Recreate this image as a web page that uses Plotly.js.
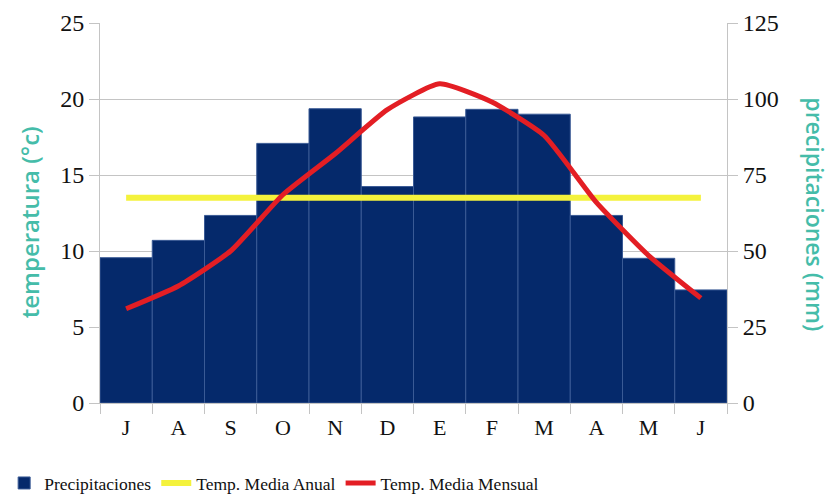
<!DOCTYPE html>
<html>
<head>
<meta charset="utf-8">
<script src="https://cdn.plot.ly/plotly-3.0.1.min.js"></script>
<style>html,body{margin:0;padding:0;background:#fff;}#chart{width:831px;height:497px;}</style>
</head>
<body>
<div id="chart"></div>
<script>
const months = ['J','A','S','O','N','D','E','F','M','A','M','J'];
const monthIds = ['m1','m2','m3','m4','m5','m6','m7','m8','m9','m10','m11','m12'];
const precipitaciones = [47.8, 53.5, 61.7, 85.4, 96.8, 71.2, 94.1, 96.6, 95.0, 61.7, 47.6, 37.2];
const tempMensual = [6.2, 7.7, 10.0, 13.7, 16.4, 19.3, 21.0, 19.8, 17.6, 13.2, 9.7, 6.9];
const tempAnual = [13.5, 13.5, 13.5, 13.5, 13.5, 13.5, 13.5, 13.5, 13.5, 13.5, 13.5, 13.5];
const precipTicks = [0, 25, 50, 75, 100, 125];
const tempTicks = [0, 5, 10, 15, 20, 25];

const serif = 'Liberation Serif, serif';
const teal = '#45bca9';
const gray = '#c4c4c4';

const traces = [
  {
    type: 'bar', name: 'Precipitaciones', x: monthIds, y: precipitaciones, yaxis: 'y',
    marker: {color: '#05296b', line: {color: '#3a5a95', width: 1}},
    hoverinfo: 'skip'
  },
  {
    type: 'scatter', mode: 'lines', name: 'Temp. Media Anual', x: monthIds, y: tempAnual, yaxis: 'y2',
    line: {color: '#f4f23c', width: 6}
  },
  {
    type: 'scatter', mode: 'lines', name: 'Temp. Media Mensual', x: monthIds, y: tempMensual, yaxis: 'y2',
    line: {color: '#e31e24', width: 5, shape: 'spline', smoothing: 0.5}
  }
];

const layout = {
  width: 831, height: 497,
  margin: {l: 100, r: 104, t: 23, b: 94, autoexpand: false},
  paper_bgcolor: '#fff', plot_bgcolor: '#fff',
  bargap: 0,
  showlegend: true,
  legend: {
    orientation: 'h', xref: 'container', yref: 'container',
    x: 0.005, xanchor: 'left', y: 0.028, yanchor: 'middle',
    font: {family: serif, size: 17.5, color: '#111'},
    itemwidth: 30, tracegroupgap: 0
  },
  xaxis: {
    type: 'category', tickmode: 'array', tickvals: monthIds, ticktext: months,
    tickson: 'boundaries', ticks: 'outside', ticklen: 10, tickcolor: gray,
    ticklabelstandoff: 5,
    showline: true, linecolor: gray, showgrid: false, zeroline: false, automargin: false,
    tickfont: {family: serif, size: 22, color: '#111'}
  },
  yaxis: {
    side: 'right', range: [0, 125], tickmode: 'array', tickvals: precipTicks,
    showline: true, linecolor: gray, ticks: 'outside', ticklen: 10, tickcolor: gray,
    showgrid: true, gridcolor: gray, zeroline: false, automargin: false,
    tickfont: {family: serif, size: 24, color: '#111'}
  },
  yaxis2: {
    overlaying: 'y', side: 'left', range: [0, 25], tickmode: 'array', tickvals: tempTicks,
    showline: true, linecolor: gray, ticks: 'outside', ticklen: 10, tickcolor: gray,
    showgrid: false, zeroline: false, automargin: false,
    tickfont: {family: serif, size: 24, color: '#111'}
  },
  annotations: [
    {text: 'temperatura (°c)', textangle: -90, xref: 'paper', yref: 'paper',
     x: -0.112, y: 0.475, xanchor: 'center', yanchor: 'middle', showarrow: false,
     font: {family: 'Open Sans, sans-serif', size: 24, weight: 600, color: teal}},
    {text: 'precipitaciones (mm)', textangle: 90, xref: 'paper', yref: 'paper',
     x: 1.14, y: 0.497, xanchor: 'center', yanchor: 'middle', showarrow: false,
     font: {family: 'Open Sans, sans-serif', size: 23, weight: 600, color: teal}}
  ]
};

Plotly.newPlot('chart', traces, layout, {displayModeBar: false, staticPlot: true});
</script>
</body>
</html>
